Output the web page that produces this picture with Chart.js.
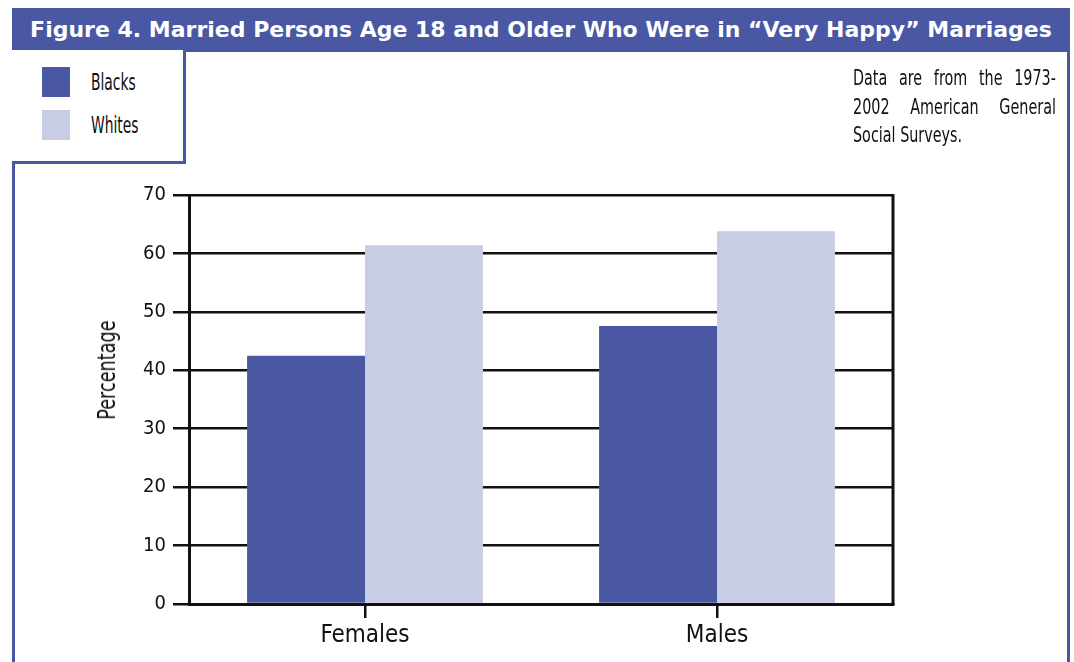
<!DOCTYPE html>
<html>
<head>
<meta charset="utf-8">
<script src="https://cdn.jsdelivr.net/npm/chart.js@4"></script>
<style>
  html, body { margin: 0; padding: 0; background: #fff; }
  body { width: 1074px; height: 662px; position: relative; overflow: hidden; }
  #chartWrap { position: absolute; left: 0; top: 0; width: 1074px; height: 662px; }
  .frameL { position: absolute; left: 12px; top: 8px; width: 3px; height: 654px; background: #4A58A4; }
  .frameR { position: absolute; left: 1067px; top: 8px; width: 3px; height: 654px; background: #4A58A4; }
  #banner { position: absolute; left: 12px; top: 8px; width: 1058px; height: 44px; background: #4A58A4;
            color: #fff; font-family: "DejaVu Sans", sans-serif; font-weight: bold; font-size: 22px;
            line-height: 44px; text-align: center; white-space: nowrap; }
  #legendBox { position: absolute; left: 12px; top: 50px; width: 171px; height: 111px;
               border-right: 3px solid #4A58A4; border-bottom: 3px solid #4A58A4; background: #fff; }
  .legItem { position: absolute; left: 30px; height: 30px; }
  .legItem .sw { position: absolute; left: 0; top: 0; width: 28px; height: 30px; }
  .legItem .lab { position: absolute; left: 49px; top: 0; line-height: 30px; font-size: 23px; color: #111;
                  font-family: "DejaVu Sans Condensed", sans-serif; white-space: nowrap;
                  transform: scaleX(0.67); transform-origin: left center; }
  #note { position: absolute; left: 853px; top: 64px; width: 267px;
          font-family: "DejaVu Sans Condensed", sans-serif; font-size: 21px; color: #111;
          line-height: 28.5px; transform: scaleX(0.76); transform-origin: left top; }
  #note div { white-space: nowrap; }
  #note .j { text-align: justify; text-align-last: justify; }
  #ytitle { position: absolute; left: 107px; top: 370px; font-family: "DejaVu Sans Condensed", sans-serif;
            font-size: 24px; color: #111; white-space: nowrap;
            transform: translate(-50%, -50%) rotate(-90deg) scaleX(0.82); }
</style>
</head>
<body>
<div id="chartWrap"><canvas id="c" width="1074" height="662"></canvas></div>
<div class="frameL"></div>
<div class="frameR"></div>
<div id="banner"></div>
<div id="legendBox"></div>
<div id="note"></div>
<div id="ytitle"></div>
<script>
// ---- data ----
const titleText = "Figure 4. Married Persons Age 18 and Older Who Were in \u201CVery Happy\u201D Marriages";
const categories = ["Females", "Males"];
const seriesNames = ["Blacks", "Whites"];
const blacksValues = [42.5, 47.6];
const whitesValues = [61.4, 63.8];
const yTicks = [0, 10, 20, 30, 40, 50, 60, 70];
const yAxisTitle = "Percentage";
const noteLines = ["Data are from the 1973-", "2002 American General", "Social Surveys."];

// ---- styles ----
const colors = ["#4A58A4", "#C8CDE3"];
const condensed = '"DejaVu Sans Condensed", sans-serif';

document.getElementById("banner").textContent = titleText;
document.getElementById("ytitle").textContent = yAxisTitle;

const legendBox = document.getElementById("legendBox");
seriesNames.forEach((name, i) => {
  const item = document.createElement("div");
  item.className = "legItem";
  item.style.top = (17 + i * 43) + "px";
  item.innerHTML = '<div class="sw" style="background:' + colors[i] + '"></div><div class="lab"></div>';
  item.querySelector(".lab").textContent = name;
  legendBox.appendChild(item);
});

const note = document.getElementById("note");
noteLines.forEach((line, i) => {
  const d = document.createElement("div");
  if (i < noteLines.length - 1) d.className = "j";
  d.textContent = line;
  note.appendChild(d);
});

const rightBorder = {
  id: "rightBorder",
  afterDatasetsDraw(chart) {
    const a = chart.chartArea, ctx = chart.ctx;
    ctx.save();
    ctx.strokeStyle = "#111";
    ctx.lineWidth = 3;
    ctx.beginPath();
    ctx.moveTo(a.right, a.top - 1);
    ctx.lineTo(a.right, a.bottom + 1);
    ctx.stroke();
    ctx.restore();
  }
};

new Chart(document.getElementById("c"), {
  type: "bar",
  data: {
    labels: categories,
    datasets: [
      { label: seriesNames[0], data: blacksValues, backgroundColor: colors[0] },
      { label: seriesNames[1], data: whitesValues, backgroundColor: colors[1] }
    ]
  },
  options: {
    responsive: false,
    animation: false,
    devicePixelRatio: 1,
    layout: { padding: { left: 90, top: 195, right: 181, bottom: 0 } },
    datasets: { bar: { categoryPercentage: 0.67, barPercentage: 1.0 } },
    plugins: { legend: { display: false }, tooltip: { enabled: false }, title: { display: false } },
    scales: {
      x: {
        afterFit(s) { s.height = 58; },
        grid: { display: true, drawOnChartArea: false, offset: false, color: "#111", lineWidth: 2.5, tickLength: 14 },
        border: { display: true, color: "#111", width: 3 },
        ticks: { color: "#111", font: { family: condensed, size: 24 }, padding: 3 }
      },
      y: {
        min: 0, max: 70,
        afterFit(s) { s.width = 99; },
        afterBuildTicks(s) { s.ticks = yTicks.map(v => ({ value: v })); },
        grid: { color: "#111", lineWidth: 2.5, tickLength: 16 },
        border: { display: true, color: "#111", width: 3 },
        ticks: { color: "#111", font: { family: condensed, size: 20 }, padding: 7 },
        title: { display: false }
      }
    }
  },
  plugins: [rightBorder]
});
</script>
</body>
</html>
